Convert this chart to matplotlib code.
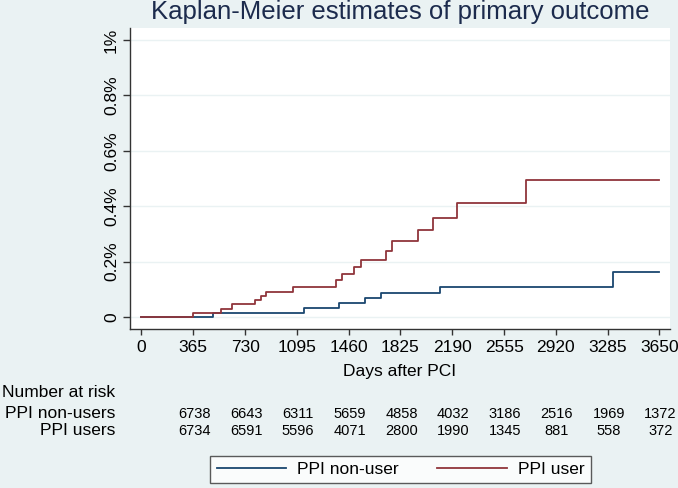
import matplotlib
matplotlib.use("Agg")
import matplotlib.pyplot as plt
import matplotlib.transforms as mtransforms
from matplotlib import font_manager

# KM step data (days, cumulative % with event)
user_days = [0, 365, 560, 639, 800, 839, 879, 1069, 1374, 1413, 1494, 1546,
             1721, 1765, 1947, 2054, 2224, 2706, 3650]
user_pct = [0, 0.016, 0.030, 0.046, 0.061, 0.076, 0.091, 0.109, 0.132, 0.156,
            0.181, 0.207, 0.240, 0.274, 0.313, 0.357, 0.410, 0.496, 0.496]

nonuser_days = [0, 503, 1147, 1390, 1577, 1689, 2104, 3324, 3650]
nonuser_pct = [0, 0.016, 0.031, 0.049, 0.067, 0.086, 0.110, 0.162, 0.162]

x_ticks = [0, 365, 730, 1095, 1460, 1825, 2190, 2555, 2920, 3285, 3650]
y_ticks = [0, 0.2, 0.4, 0.6, 0.8, 1.0]
y_labels = ["0", "0.2%", "0.4%", "0.6%", "0.8%", "1%"]

risk_days = [365, 730, 1095, 1460, 1825, 2190, 2555, 2920, 3285, 3650]
risk_nonusers = [6738, 6643, 6311, 5659, 4858, 4032, 3186, 2516, 1969, 1372]
risk_users = [6734, 6591, 5596, 4071, 2800, 1990, 1345, 881, 558, 372]

BG = "#eaf2f3"
BLUE = "#1a476f"
RED = "#90353b"
TITLE_C = "#1c2b4d"

plt.rcParams['font.family'] = ['Liberation Sans', 'DejaVu Sans']
names = {f.name for f in font_manager.fontManager.ttflist}
if 'Liberation Sans Narrow' in names:
    num_font = dict(family=['Liberation Sans Narrow', 'Liberation Sans'], fontsize=11.5)
else:
    num_font = dict(family=['Liberation Sans', 'DejaVu Sans'], fontsize=10.5)

W, H = 678, 488
fig = plt.figure(figsize=(W / 100, H / 100), dpi=100, facecolor=BG)
ax = fig.add_axes([130 / W, 1 - 329 / H, 540 / W, 301 / H])
ax.set_facecolor("white")

ax.step(nonuser_days, nonuser_pct, where='post', color=BLUE, lw=1.3, label="PPI non-user")
ax.step(user_days, user_pct, where='post', color=RED, lw=1.3, label="PPI user")

ax.set_xlim(-81, 3724)
ax.set_ylim(-0.0433, 1.0433)
ax.set_xticks(x_ticks)
ax.set_yticks(y_ticks)
ax.set_yticklabels(y_labels)
ax.grid(axis='y', color=BG, lw=1)
ax.set_axisbelow(True)

for s in ['top', 'right']:
    ax.spines[s].set_visible(False)
for s in ['left', 'bottom']:
    ax.spines[s].set_color("#333333")
    ax.spines[s].set_linewidth(1)

ax.tick_params(axis='x', length=4.5, width=1, color="#333333", labelsize=12.5, pad=3.5)
ax.tick_params(axis='y', length=5, width=1, color="#333333", labelsize=12.5, pad=3,
               labelrotation=90)
for lab in ax.get_yticklabels():
    lab.set_va('center')

fig.text(400 / W, 1 - 19 / H, "Kaplan-Meier estimates of primary outcome",
         ha='center', va='baseline', fontsize=18.5, color=TITLE_C)
fig.text(400 / W, 1 - 376 / H, "Days after PCI", ha='center', va='baseline', fontsize=12.5)

# number at risk table
fig.text(2 / W, 1 - 397 / H, "Number at risk", ha='left', va='baseline', fontsize=12.5)
fig.text(115 / W, 1 - 418 / H, "PPI non-users", ha='right', va='baseline', fontsize=12.5)
fig.text(115 / W, 1 - 435 / H, "PPI users", ha='right', va='baseline', fontsize=12.5)
trans = mtransforms.blended_transform_factory(ax.transData, fig.transFigure)
shift = mtransforms.ScaledTranslation(1 / 100, 0, fig.dpi_scale_trans)
for d, a, b in zip(risk_days, risk_nonusers, risk_users):
    ax.text(d, 1 - 418 / H, str(a), transform=trans + shift, ha='center', va='baseline',
            clip_on=False, **num_font)
    ax.text(d, 1 - 435 / H, str(b), transform=trans + shift, ha='center', va='baseline',
            clip_on=False, **num_font)

leg = fig.legend(loc='center', bbox_to_anchor=(400.5 / W, 1 - 469.5 / H), ncol=2,
                 fontsize=12.5, frameon=True, fancybox=False, handlelength=4.0,
                 handletextpad=0.65, columnspacing=2.2, borderpad=0.35)
leg.get_frame().set_edgecolor("#333333")
leg.get_frame().set_linewidth(1)
leg.get_frame().set_facecolor("white")

fig.savefig("out.png", dpi=100, facecolor=BG)
